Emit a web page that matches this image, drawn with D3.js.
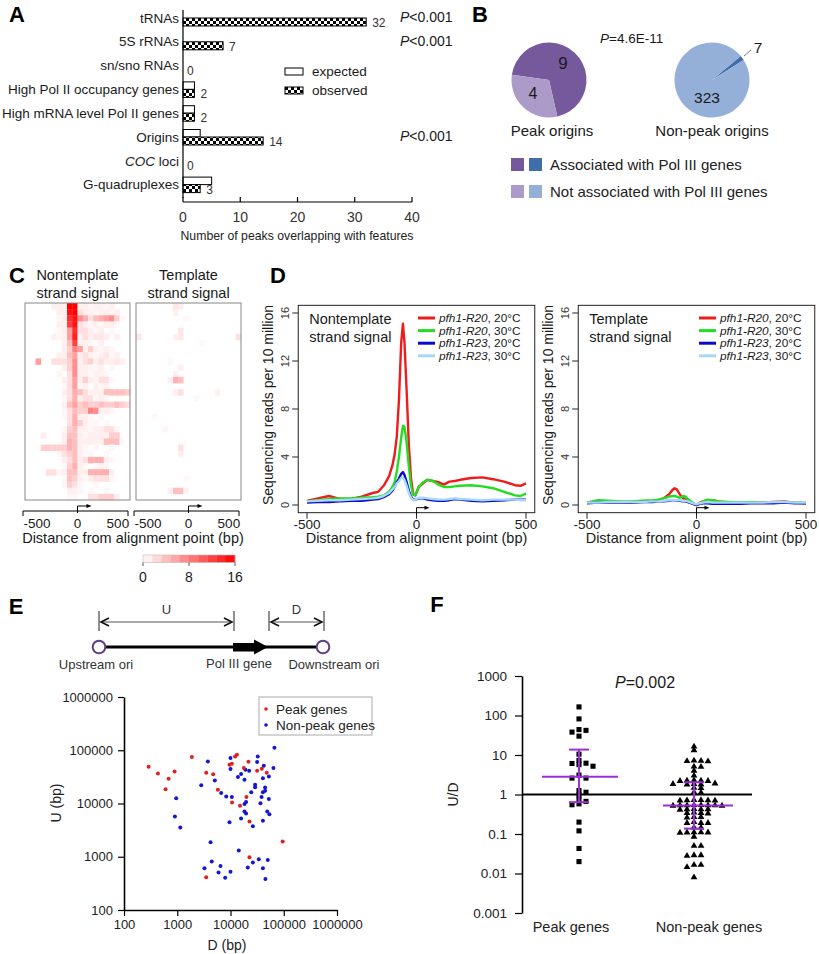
<!DOCTYPE html>
<html><head><meta charset="utf-8">
<script src="https://cdn.jsdelivr.net/npm/d3@7"></script>
<style>body{margin:0;background:#fff}svg{display:block}</style>
</head><body>
<script>
// ---------------- DATA ----------------
// Panel A
const aCats = ["tRNAs","5S rRNAs","sn/sno RNAs","High Pol II occupancy genes","High mRNA level Pol II genes","Origins","COC loci","G-quadruplexes"];
const aExpected = [0,0,0,2,2,3,0,5];
const aObserved = [32,7,0,2,2,14,0,3];
const aPvals = ["<0.001","<0.001",null,null,null,"<0.001",null,null];
const aTicks = [0,10,20,30,40];
// Panel B
const bPeak = [9,4];
const bNonPeak = [7,323];
const bLegend = ["Associated with Pol III genes","Not associated with Pol III genes"];
// Panel C heatmaps (rows x 20 bins, -650..650 bp)
const hmNontemplate = [
[0,0,0,0,0,1,1,1,16,16,1,1,0.5,1,1,0.5,1,0,0,0],
[0,0,0,0,0,0,1,1,15,16,2,1,1,0.5,1,1,0.5,1,0,0],
[0,0,0,0,0,0,0.5,1,13,15,7,5,2,4,5,6,7,3,0.5,0],
[0,0,0,0,0,0,1,1,12,15,2,1,0.5,1,0.5,1,1,0.5,0,0],
[0,0,0,0,0,0,0.5,1,6,13,2,2,1,0.5,1,0,0.5,0,0,0],
[0,0,0,0,0,1,0.5,1,6,14,1,2,1,1.5,1.5,1,0,1,0,0],
[0,0,0,0,0,0,0,1,4,12,1,1,0.5,0,1,0,0,0,0,0],
[0,0,0,0,0,0,0,1,3,8,6,1,3,1,0.5,1,0.5,0,0,0],
[0,0,0,0,0,0,1,1,4,6,1,2,1,0.5,1,1.5,0.5,1,0,0],
[0,0,6,0,0,2,2,2,3,7,1,2,3,1,2,1,1,1.5,1,0],
[0,0,0,0,0,0,0,1,3,7,1,1,0.5,0.5,1,0,0.5,0,0,0],
[0,0,0,0,0,0,0.5,0,2,7,1,1,0.5,1,1,0.5,0,0,0,0],
[0,0,0,0,0,0,0,1,2,6,1,3,1,0.5,2,2,0.5,0,0,0],
[0,0,0,0,0,0,0,0.5,2,6,0.5,1,0,1,0.5,1,0,0,0,0],
[0,0,0,0,0,0,0,1,2,5,4,2,1,1,1,4,4,4,4,3],
[0,0,0,0,0,0,0,0.5,2,5,1,2,2,0.5,1,0.5,0,0,0,0],
[0,0,0,0,0,0,0,1,4,6,3,4,3,3,4,3,3,4,3,2],
[0,0,0,0,0,0,0,0.5,2,4,3,3,8,7,1,1,0.5,0,0,0],
[0,0,0,0,0,0,0,0.5,2,5,1,1,0.5,0,0.5,0,0,0,0,0],
[0,0,0,0,0,0,0,0,2,5,3,1,0.5,0.5,0,0.5,0,0,0,0],
[0,0,0,0,0,0,0,0.5,3,4,1,1,0.5,1,1,2,2,0.5,0,0],
[0,0,0,1,0,0,0,1,4,4,1,0.5,1,1,1,1,3,3,0,0],
[0,0,0,0,0,0,0,1,5,4,1,1,1,1,1,4,4,4,0.5,0],
[0,0,0,3,3,3,3,3,5,4,1,0.5,0,0.5,0,0,0.5,0,0,0],
[0,0,0,0,0,0,0.5,2,3,4,1,0.5,0.5,0,0,0.5,0,0,0,0],
[0,0,0,0,0,0,0,1,2,4,1,2,5,5,5,1,0.5,0,0,0],
[0,0,0,0,0,0,0,0.5,3,5,1,0.5,0,0.5,1,0.5,0,0,0,0],
[0,0,0,0,2,2,0.5,1,4,4,1,1,5,5,5,5,1,0,0,0],
[0,0,0,0,0,0,0,0.5,4,3,1,0.5,1,2,2,2,0.5,0,0,0],
[0,0,0,0,0,0,0,0.5,3,2,0.5,0,0,0.5,0,0,0,0,0,0],
[0,0,0,0,0,0,0,0,1,1,0.5,0,0.5,0,0,0.5,0,0,0,0],
[0,0,0,0,0,0,0,0,0.5,0.5,0,0,2,2,3,3,3,1,0,0]
];
// template strand heatmap, sparse cells: [row, bin, value]
const hmTemplateCells = [[0,7,1.5],[0,8,1],[1,7,1],[2,9,0.5],[4,8,1.5],[5,0,1.5],[5,8,1.5],[5,7,1],[5,19,2],[6,12,0.5],[9,6,0.5],[10,8,1],[11,7,1],[12,7,5],[12,8,4],[12,6,1],[14,8,2],[14,7,1],[14,15,1],[15,11,0.5],[18,3,0.5],[20,5,0.5],[23,8,2],[24,8,1],[28,9,0.5],[30,7,4],[30,8,4],[30,6,1],[30,9,1]];
const hmTicks = [-500,0,500];
const cbTicks = [0,8,16];
// Panel D profiles
const dSeriesNames = ["pfh1-R20","pfh1-R20","pfh1-R23","pfh1-R23"];
const dSeriesTemps = [", 20°C",", 30°C",", 20°C",", 30°C"];
const ntX = [-500,-450,-400,-350,-300,-250,-200,-175,-150,-125,-110,-100,-90,-80,-70,-62,-55,-45,-35,-25,-15,-5,10,30,50,75,100,125,150,175,200,250,300,350,400,450,475,500];
const ntRed20 = [0.35,0.55,0.75,0.5,0.5,0.7,1.0,1.1,1.6,2.4,3.3,4.2,5.7,8.8,13.5,15.1,13.6,9.5,5.0,2.2,0.9,0.8,1.5,1.8,2.1,2.0,1.9,1.7,1.95,2.0,2.1,2.25,2.3,2.15,1.95,1.65,1.6,1.8];
const ntRed30 = [0.3,0.4,0.5,0.55,0.55,0.6,0.65,0.7,0.8,1.1,1.5,1.9,2.8,4.0,5.6,6.6,6.5,5.2,3.2,1.6,0.85,0.8,1.5,1.9,2.1,2.0,1.7,1.5,1.5,1.55,1.6,1.65,1.55,1.4,1.1,0.8,0.75,0.95];
const ntR23_20 = [0.2,0.25,0.25,0.3,0.35,0.35,0.45,0.5,0.65,0.9,1.2,1.5,1.9,2.2,2.6,2.75,2.5,1.9,1.2,0.7,0.45,0.45,0.55,0.55,0.45,0.4,0.35,0.35,0.4,0.5,0.45,0.35,0.3,0.35,0.4,0.45,0.45,0.45];
const ntR23_30 = [0.3,0.35,0.4,0.4,0.45,0.5,0.55,0.6,0.75,1.0,1.3,1.5,1.8,2.0,2.25,2.3,2.1,1.6,1.0,0.6,0.4,0.45,0.6,0.6,0.55,0.5,0.45,0.45,0.5,0.55,0.5,0.45,0.4,0.45,0.45,0.45,0.4,0.4];
const tX = [-500,-450,-400,-350,-300,-250,-200,-175,-150,-125,-110,-100,-90,-75,-60,-50,-40,-25,-10,0,15,30,50,75,100,150,200,250,300,350,400,450,500];
const tRed20 = [0.2,0.2,0.25,0.25,0.2,0.25,0.3,0.4,0.55,0.9,1.25,1.4,1.3,0.85,0.55,0.45,0.35,0.2,0.05,0.0,0.2,0.3,0.4,0.4,0.3,0.2,0.2,0.2,0.2,0.25,0.3,0.2,0.15];
const tRed30 = [0.2,0.4,0.35,0.3,0.3,0.35,0.4,0.45,0.55,0.7,0.75,0.75,0.7,0.6,0.75,0.7,0.5,0.3,0.1,0.0,0.15,0.3,0.45,0.4,0.3,0.25,0.2,0.25,0.2,0.2,0.25,0.2,0.2];
const tR23_20 = [0.15,0.2,0.2,0.2,0.2,0.25,0.25,0.3,0.3,0.35,0.4,0.4,0.38,0.35,0.3,0.3,0.25,0.15,0.05,0.0,0.1,0.15,0.15,0.1,0.1,0.1,0.1,0.15,0.15,0.15,0.2,0.15,0.15];
const tR23_30 = [0.2,0.2,0.25,0.25,0.25,0.25,0.3,0.3,0.35,0.4,0.4,0.4,0.4,0.4,0.35,0.35,0.3,0.2,0.1,0.05,0.15,0.2,0.25,0.2,0.2,0.2,0.2,0.2,0.2,0.25,0.25,0.2,0.2];
const dYTicks = [0,4,8,12,16];
const dXTicks = [-500,0,500];
// Panel E scatter (bp)
const ePeakD = [290,434,688,891,603,1880,3500,4730,5790,3500,9570,10600,12200,13200,10700,15100,17800,19900,21700,22700,22700,31600,38700,47900,95500];
const ePeakU = [49000,36600,29100,39800,18600,74600,38000,35300,18100,411,53300,55700,76600,82200,10400,9040,46200,13200,60800,4570,976,41100,44700,37800,1930];
const eNonD = [3760,2820,5080,955,903,1140,6680,8310,10000,10000,10600,9570,13800,15800,18300,19100,22400,18300,19600,18300,19600,15800,24500,29000,29000,26300,31600,32500,36500,38300,40600,44700,44700,42200,40600,52500,49000,53700,52500,64000,66800,40600,4220,14300,3240,4440,6490,5960,7940,10000,21100,26300,34000,40600,50100,45300];
const eNonU = [61700,21900,27100,12600,5690,3540,15700,13500,71300,44300,13200,4460,31300,35700,27900,42900,41100,9800,10700,7080,6460,5250,16300,22400,20300,3720,60300,76600,10100,13200,16300,17300,20000,51000,29900,12100,7080,6310,32200,46200,111400,4720,1870,1310,608,811,673,504,405,525,631,776,898,608,871,383];
const eTicks = [100,1000,10000,100000,1000000];
// Panel F (U/D ratios)
const fCats = ["Peak genes","Non-peak genes"];
const fPeak = [165,82,44,38,42,30,10.5,6.2,5.7,5.2,6.1,7.3,3.1,2.6,2.6,1.14,1.26,0.98,0.67,0.75,0.55,0.58,0.2,0.12,0.043,0.02];
const fNonPeak = [16.3,13.2,7.1,7.0,7.2,6.9,5.1,5.0,4.0,3.0,2.25,2.2,2.3,2.25,2.2,1.85,1.8,1.9,1.85,1.8,1.47,1.45,1.14,1.12,0.71,0.7,0.72,0.71,0.7,0.72,0.53,0.53,0.52,0.54,0.53,0.52,0.53,0.54,0.42,0.42,0.41,0.43,0.42,0.34,0.34,0.33,0.35,0.27,0.27,0.26,0.19,0.19,0.2,0.19,0.146,0.145,0.109,0.11,0.108,0.109,0.11,0.085,0.05,0.05,0.029,0.029,0.028,0.0165,0.0165,0.0145,0.008];
const fMedian = [2.83,0.53];
const fQ3 = [13.7,2.04];
const fQ1 = [0.64,0.137];
const fTicks = [0.001,0.01,0.1,1,10,100,1000];

// ---------------- DRAWING ----------------
const FONT = "'Liberation Sans', Arial, Helvetica, sans-serif";
const svg = d3.select("body").append("svg").attr("width",819).attr("height",954)
  .attr("font-family",FONT);
svg.append("rect").attr("width",819).attr("height",954).attr("fill","#fff");
const defs = svg.append("defs");

function T(g,x,y,s,size,anchor="start",extra={}){
  const t = g.append("text").attr("x",x).attr("y",y).attr("font-size",size)
    .attr("text-anchor",anchor).attr("dominant-baseline","central").attr("fill",extra.fill||"#1a1a1a").text(s);
  if(extra.weight) t.attr("font-weight",extra.weight);
  if(extra.italic) t.attr("font-style","italic");
  return t;
}
function Tparts(g,x,y,parts,size,anchor="start",fill="#1a1a1a"){
  const t = g.append("text").attr("x",x).attr("y",y).attr("font-size",size)
    .attr("text-anchor",anchor).attr("dominant-baseline","central").attr("fill",fill);
  parts.forEach(p=>t.append("tspan").attr("font-style",p[1]?"italic":"normal").text(p[0]));
  return t;
}
function letter(x,y,s){ T(svg,x,y,s,22,"middle",{weight:"bold",fill:"#000"}); }

// ===== Panel A =====
letter(17,14,"A");
const gA = svg.append("g");
const xA = d3.scaleLinear().domain([0,40]).range([183,412]);
const yA = d3.scaleBand().domain(aCats).range([6.1,196.5]);
const cyA = c => yA(c)+yA.bandwidth()/2;
const pat = defs.append("pattern").attr("id","checks").attr("width",6).attr("height",6).attr("patternUnits","userSpaceOnUse");
pat.append("rect").attr("width",6).attr("height",6).attr("fill","#fff");
pat.append("rect").attr("width",3).attr("height",3).attr("fill","#000");
pat.append("rect").attr("x",3).attr("y",3).attr("width",3).attr("height",3).attr("fill","#000");

aCats.forEach((c,i)=>{
  const cy = cyA(c);
  if(c==="COC loci") Tparts(gA,179,cy,[["COC",true],[" loci",false]],13.5,"end");
  else T(gA,179,cy,c,13.5,"end");
  if(aExpected[i]>0) gA.append("rect").attr("x",xA(0)).attr("y",cy-7.5).attr("width",xA(aExpected[i])-xA(0)).attr("height",7.5)
      .attr("fill","#fff").attr("stroke","#000").attr("stroke-width",1);
  if(aObserved[i]>0) gA.append("rect").attr("x",xA(0)).attr("y",cy).attr("width",xA(aObserved[i])-xA(0)).attr("height",8)
      .attr("fill","url(#checks)").attr("stroke","#000").attr("stroke-width",1);
  T(gA,xA(Math.max(aObserved[i],0))+ (aObserved[i]>0?6:4),cy+5,String(aObserved[i]),12,"start",{fill:"#333"});
  if(aPvals[i]) Tparts(gA,400,cy-1,[["P",true],[aPvals[i],false]],14,"start");
});
gA.append("line").attr("x1",183).attr("x2",183).attr("y1",10).attr("y2",198).attr("stroke","#000").attr("stroke-width",1.2);
gA.append("line").attr("x1",xA(0)).attr("x2",xA(40)).attr("y1",202).attr("y2",202).attr("stroke","#000").attr("stroke-width",1.2);
aTicks.forEach(t=>{
  gA.append("line").attr("x1",xA(t)).attr("x2",xA(t)).attr("y1",197).attr("y2",202).attr("stroke","#000").attr("stroke-width",1.2);
  T(gA,xA(t),217,String(t),14,"middle",{fill:"#333"});
});
T(gA,297,235,"Number of peaks overlapping with features",13.5,"middle",{fill:"#222"})
  .attr("textLength",233).attr("lengthAdjust","spacingAndGlyphs");
gA.append("rect").attr("x",285).attr("y",68).attr("width",18).attr("height",7).attr("fill","#fff").attr("stroke","#000");
gA.append("rect").attr("x",285).attr("y",87).attr("width",18).attr("height",7).attr("fill","url(#checks)").attr("stroke","#000");
T(gA,312,71.5,"expected",13.5);
T(gA,312,90.5,"observed",13.5);

// ===== Panel B =====
letter(480,14,"B");
const gB = svg.append("g");
const deg = Math.PI/180;
const arcB = d3.arc().innerRadius(0).outerRadius(37.5);
const pieColors1 = ["#76599d","#ac9bc9"], pieColors2 = ["#3f6eab","#94afd8"];
function drawPie(cx,cy,vals,start,cols){
  const arcs = d3.pie().sort(null).startAngle(start*deg).endAngle(start*deg+2*Math.PI)(vals);
  const g = gB.append("g").attr("transform",`translate(${cx},${cy})`);
  g.selectAll("path").data(arcs).join("path").attr("d",arcB).attr("fill",(d,i)=>cols[i]);
}
drawPie(549,80,bPeak,278,pieColors1);
drawPie(712,80,bNonPeak,50,pieColors2);
T(gB,563,63,String(bPeak[0]),17,"middle");
T(gB,533,93,String(bPeak[1]),16,"middle");
T(gB,707,97,String(bNonPeak[1]),15.5,"middle");
gB.append("line").attr("x1",744).attr("y1",56).attr("x2",751).attr("y2",50).attr("stroke","#555").attr("stroke-width",0.8);
T(gB,758,47,String(bNonPeak[0]),15.5,"middle");
Tparts(gB,600,38,[["P",true],["=4.6E-11",false]],13.5,"start");
T(gB,552,130,"Peak origins",15,"middle");
T(gB,712,130,"Non-peak origins",15,"middle");
[[pieColors1[0],pieColors2[0]],[pieColors1[1],pieColors2[1]]].forEach((cs,i)=>{
  const y = 158 + i*27;
  gB.append("rect").attr("x",511).attr("y",y).attr("width",13).attr("height",13).attr("fill",cs[0]);
  gB.append("rect").attr("x",529).attr("y",y).attr("width",13).attr("height",13).attr("fill",cs[1]);
  T(gB,550,y+6.5,bLegend[i],15,"start",{fill:"#222"});
});

// ===== Panel C =====
letter(17,275,"C");
const gC = svg.append("g");
const heatColor = d3.scaleLinear().domain([0,16]).range(["#ffffff","#ff0000"]);
const nBins = 20, nRows = hmNontemplate.length;
const binEdge = d3.range(nBins+1).map(i=>-650+i*1300/nBins);
function drawHeat(x0,x1,cells,title){
  const xH = d3.scaleLinear().domain([-650,650]).range([x0,x1]);
  const yH = d3.scaleBand().domain(d3.range(nRows)).range([303,500]);
  const g = gC.append("g");
  g.selectAll("rect.c").data(cells.filter(d=>d[2]>0)).join("rect")
    .attr("x",d=>xH(binEdge[d[1]])).attr("width",d=>xH(binEdge[d[1]+1])-xH(binEdge[d[1]])+0.3)
    .attr("y",d=>yH(d[0])).attr("height",yH.bandwidth()+0.3).attr("fill",d=>heatColor(d[2]));
  g.append("rect").attr("x",x0).attr("y",303).attr("width",x1-x0).attr("height",197).attr("fill","none").attr("stroke","#888").attr("stroke-width",1);
  // axis
  g.append("line").attr("x1",x0-2).attr("x2",x1-2).attr("y1",511).attr("y2",511).attr("stroke","#000");
  [x0-2,x1-2].forEach(xx=>g.append("line").attr("x1",xx).attr("x2",xx).attr("y1",511).attr("y2",516).attr("stroke","#000"));
  hmTicks.forEach(t=>T(g,xH(t),523,String(t),13.5,"middle"));
  const xz = xH(0);
  g.append("path").attr("d",`M${xz},513V506H${xz+10}`).attr("fill","none").attr("stroke","#000").attr("stroke-width",1);
  g.append("path").attr("d",`M${xz+14},506L${xz+9},504L${xz+9},508Z`).attr("fill","#000");
  T(g,(x0+x1)/2,275,title[0],14.5,"middle");
  T(g,(x0+x1)/2,293,title[1],14.5,"middle");
}
const ntCells = [];
hmNontemplate.forEach((row,r)=>row.forEach((v,c)=>ntCells.push([r,c,v])));
drawHeat(25,130,ntCells,["Nontemplate","strand signal"]);
drawHeat(136,241,hmTemplateCells,["Template","strand signal"]);
T(gC,133,538,"Distance from alignment point (bp)",14.5,"middle");
const cbX = d3.scaleLinear().domain([0,16]).range([143,235]);
d3.range(10).forEach(i=>{
  gC.append("rect").attr("x",cbX(i*1.6)).attr("width",cbX(1.6)-cbX(0)+0.2).attr("y",555).attr("height",7.5).attr("fill",heatColor(i*1.6+0.8));
});
gC.append("rect").attr("x",143).attr("y",555).attr("width",92).attr("height",7.5).attr("fill","none").attr("stroke","#bbb").attr("stroke-width",0.6);
cbTicks.forEach(t=>{
  gC.append("line").attr("x1",cbX(t)).attr("x2",cbX(t)).attr("y1",562.5).attr("y2",566).attr("stroke","#555");
  T(gC,cbX(t),577,String(t),14,"middle");
});

// ===== Panel D =====
letter(278,275,"D");
const dColors = ["#ee1c1c","#22dd22","#0a0acc","#a8d8f8"];
function drawProfile(xr,xs,series,title,legX){
  const g = svg.append("g");
  const x = d3.scaleLinear().domain([-500,500]).range(xr);
  const y = d3.scaleLinear().domain([0,16]).range([505,313]);
  const bx0=x(-540), bx1=x(540), by0=y(-0.64), by1=y(16.64);
  const line = d3.line().x((d,i)=>x(xs[i])).y(d=>y(d));
  series.forEach((s,k)=>g.append("path").attr("d",line(s)).attr("fill","none")
    .attr("stroke",dColors[k]).attr("stroke-width",2.4).attr("stroke-linejoin","round"));
  g.append("rect").attr("x",bx0).attr("y",by1).attr("width",bx1-bx0).attr("height",by0-by1)
    .attr("fill","none").attr("stroke","#222").attr("stroke-width",1);
  dYTicks.forEach(t=>{
    g.append("line").attr("x1",bx0-6).attr("x2",bx0).attr("y1",y(t)).attr("y2",y(t)).attr("stroke","#222");
    T(g,0,0,String(t),11,"middle",{fill:"#333"}).attr("transform",`translate(${bx0-13},${y(t)}) rotate(-90)`);
  });
  T(g,0,0,"Sequencing reads per 10 million",14,"middle").attr("transform",`translate(${bx0-30},405) rotate(-90)`);
  dXTicks.forEach(t=>{
    g.append("line").attr("x1",x(t)).attr("x2",x(t)).attr("y1",by0).attr("y2",by0+6).attr("stroke","#222");
    T(g,x(t),524,String(t),13.5,"middle");
  });
  const xz = x(0);
  g.append("path").attr("d",`M${xz},${by0+1}V${by0-5}H${xz+9}`).attr("fill","none").attr("stroke","#000");
  g.append("path").attr("d",`M${xz+13},${by0-5}L${xz+8},${by0-7}L${xz+8},${by0-3}Z`).attr("fill","#000");
  T(g,(x(-500)+x(500))/2,538,"Distance from alignment point (bp)",14.5,"middle");
  T(g,bx0+11,319,title[0],14.5,"start");
  T(g,bx0+11,337,title[1],14.5,"start");
  series.forEach((s,k)=>{
    const yy = 318 + k*12.6;
    g.append("line").attr("x1",legX).attr("x2",legX+17).attr("y1",yy).attr("y2",yy).attr("stroke",dColors[k]).attr("stroke-width",3);
    Tparts(g,legX+21,yy,[[dSeriesNames[k],true],[dSeriesTemps[k],false]],11.8,"start");
  });
}
drawProfile([307,526],ntX,[ntRed20,ntRed30,ntR23_20,ntR23_30],["Nontemplate","strand signal"],418);
drawProfile([587,806],tX,[tRed20,tRed30,tR23_20,tR23_30],["Template","strand signal"],699);

// ===== Panel E =====
letter(16,606,"E");
const gE = svg.append("g");
function bracketArrow(xa,xb,y,label){
  gE.append("line").attr("x1",xa).attr("x2",xa).attr("y1",y-11).attr("y2",y+9).attr("stroke","#222").attr("stroke-width",1);
  gE.append("line").attr("x1",xb).attr("x2",xb).attr("y1",y-11).attr("y2",y+9).attr("stroke","#222").attr("stroke-width",1);
  gE.append("line").attr("x1",xa+2).attr("x2",xb-2).attr("y1",y).attr("y2",y).attr("stroke","#555").attr("stroke-width",1.2);
  gE.append("path").attr("d",`M${xa+10},${y-4}L${xa+2},${y}L${xa+10},${y+4}`).attr("fill","none").attr("stroke","#111").attr("stroke-width",1.6);
  gE.append("path").attr("d",`M${xb-10},${y-4}L${xb-2},${y}L${xb-10},${y+4}`).attr("fill","none").attr("stroke","#111").attr("stroke-width",1.6);
  T(gE,(xa+xb)/2,y-13,label,13,"middle",{fill:"#333"});
}
bracketArrow(99,234,622,"U");
bracketArrow(269,324,622,"D");
gE.append("line").attr("x1",105).attr("x2",317).attr("y1",647).attr("y2",647).attr("stroke","#000").attr("stroke-width",3);
gE.append("rect").attr("x",233).attr("y",643).attr("width",22).attr("height",8.5).attr("fill","#000");
gE.append("path").attr("d","M254,639.5L268,647L254,654.5Z").attr("fill","#000");
[99,323].forEach(cx=>gE.append("circle").attr("cx",cx).attr("cy",647).attr("r",6.3).attr("fill","#fff").attr("stroke","#5e3f86").attr("stroke-width",2));
T(gE,96,664,"Upstream ori",13,"middle",{fill:"#333"});
T(gE,239,663,"Pol III gene",13,"middle",{fill:"#333"});
T(gE,334,664,"Downstream ori",13,"middle",{fill:"#333"});
const xE = d3.scaleLog().domain([100,1e6]).range([124,337]);
const yE = d3.scaleLog().domain([100,1e6]).range([910,697]);
function styleAxis(sel,size){
  sel.attr("font-family",FONT).attr("font-size",size);
  sel.selectAll("text").attr("fill","#222");
  sel.select(".domain").attr("stroke","#000").attr("stroke-width",1.6);
  sel.selectAll(".tick line").attr("stroke","#000").attr("stroke-width",1.2);
}
gE.append("g").attr("transform","translate(124,0)")
  .call(d3.axisLeft(yE).tickValues(eTicks).tickFormat(d3.format("d")).tickSize(6).tickSizeOuter(0).tickPadding(5))
  .call(s=>styleAxis(s,13));
gE.append("g").attr("transform","translate(0,910)")
  .call(d3.axisBottom(xE).tickValues(eTicks).tickFormat(d3.format("d")).tickSize(6).tickSizeOuter(0).tickPadding(4))
  .call(s=>styleAxis(s,13));
T(gE,0,0,"U (bp)",14,"middle",{fill:"#222"}).attr("transform","translate(56,803) rotate(-90)");
T(gE,227,945,"D (bp)",14,"middle",{fill:"#222"});
const eRed = "#e02020", eBlue = "#1515d5";
gE.selectAll("circle.np").data(eNonD).join("circle").attr("class","np")
  .attr("cx",d=>xE(d)).attr("cy",(d,i)=>yE(eNonU[i])).attr("r",2).attr("fill",eBlue);
gE.selectAll("circle.pk").data(ePeakD).join("circle").attr("class","pk")
  .attr("cx",d=>xE(d)).attr("cy",(d,i)=>yE(ePeakU[i])).attr("r",2).attr("fill",eRed);
gE.append("rect").attr("x",259).attr("y",697).attr("width",113).attr("height",38).attr("fill","#fff").attr("stroke","#aaa");
gE.append("circle").attr("cx",266).attr("cy",709).attr("r",1.8).attr("fill",eRed);
gE.append("circle").attr("cx",266).attr("cy",725).attr("r",1.8).attr("fill",eBlue);
T(gE,276,709,"Peak genes",13.5,"start",{fill:"#222"});
T(gE,276,725,"Non-peak genes",13.5,"start",{fill:"#222"});

// ===== Panel F =====
letter(437,604,"F");
const gF = svg.append("g");
const yF = d3.scaleLog().domain([0.001,1000]).range([913,676]);
const xF = d3.scalePoint().domain(fCats).range([579,694]);
gF.append("g").attr("transform","translate(522,0)")
  .call(d3.axisLeft(yF).tickValues(fTicks).tickFormat(d=>d>=1?d3.format("d")(d):String(d)).tickSize(7).tickSizeOuter(0).tickPadding(8))
  .call(s=>styleAxis(s,13.5));
gF.append("line").attr("x1",522).attr("x2",752).attr("y1",yF(1)).attr("y2",yF(1)).attr("stroke","#000").attr("stroke-width",1.8);
T(gF,0,0,"U/D",14,"middle",{fill:"#222"}).attr("transform",`translate(453,${yF(1)}) rotate(-90)`);
Tparts(gF,645,682,[["P",true],["=0.002",false]],16,"middle");
const labelShift = [-8,15];
fCats.forEach((c,i)=>T(gF,xF(c)+labelShift[i],927,c,14.5,"middle",{fill:"#222"}));
function swarm(vals,step){
  const pts = vals.map(v=>({v,y:yF(v)})).sort((a,b)=>b.v-a.v);
  const placed=[];
  pts.forEach(p=>{
    for(let k=0;k<60;k++){
      const off = (k%2===1?1:-1)*Math.ceil(k/2)*step;
      if(!placed.some(q=>Math.abs(q.y-p.y)<3.5 && Math.abs(q.dx-off)<step-0.5)){p.dx=off;break;}
    }
    placed.push(p);
  });
  return pts;
}
const purple = "#9b2fd6";
[fPeak,fNonPeak].forEach((vals,i)=>{
  const cx = xF(fCats[i]);
  const pts = swarm(vals,7);
  const sym = d3.symbol().type(i===0?d3.symbolSquare:d3.symbolTriangle).size(i===0?26:20);
  gF.selectAll("path.p"+i).data(pts).join("path").attr("class","p"+i)
    .attr("d",sym).attr("transform",d=>`translate(${cx+d.dx},${d.y})`).attr("fill","#000");
  const half = i===0?38:35, mc = i===0?cx+1:cx+4;
  gF.append("line").attr("x1",mc-half).attr("x2",mc+half).attr("y1",yF(fMedian[i])).attr("y2",yF(fMedian[i])).attr("stroke",purple).attr("stroke-width",2);
  gF.append("line").attr("x1",cx).attr("x2",cx).attr("y1",yF(fQ3[i])).attr("y2",yF(fQ1[i])).attr("stroke",purple).attr("stroke-width",2);
  [fQ3[i],fQ1[i]].forEach(q=>gF.append("line").attr("x1",cx-10).attr("x2",cx+10).attr("y1",yF(q)).attr("y2",yF(q)).attr("stroke",purple).attr("stroke-width",2));
});
</script></body></html>
